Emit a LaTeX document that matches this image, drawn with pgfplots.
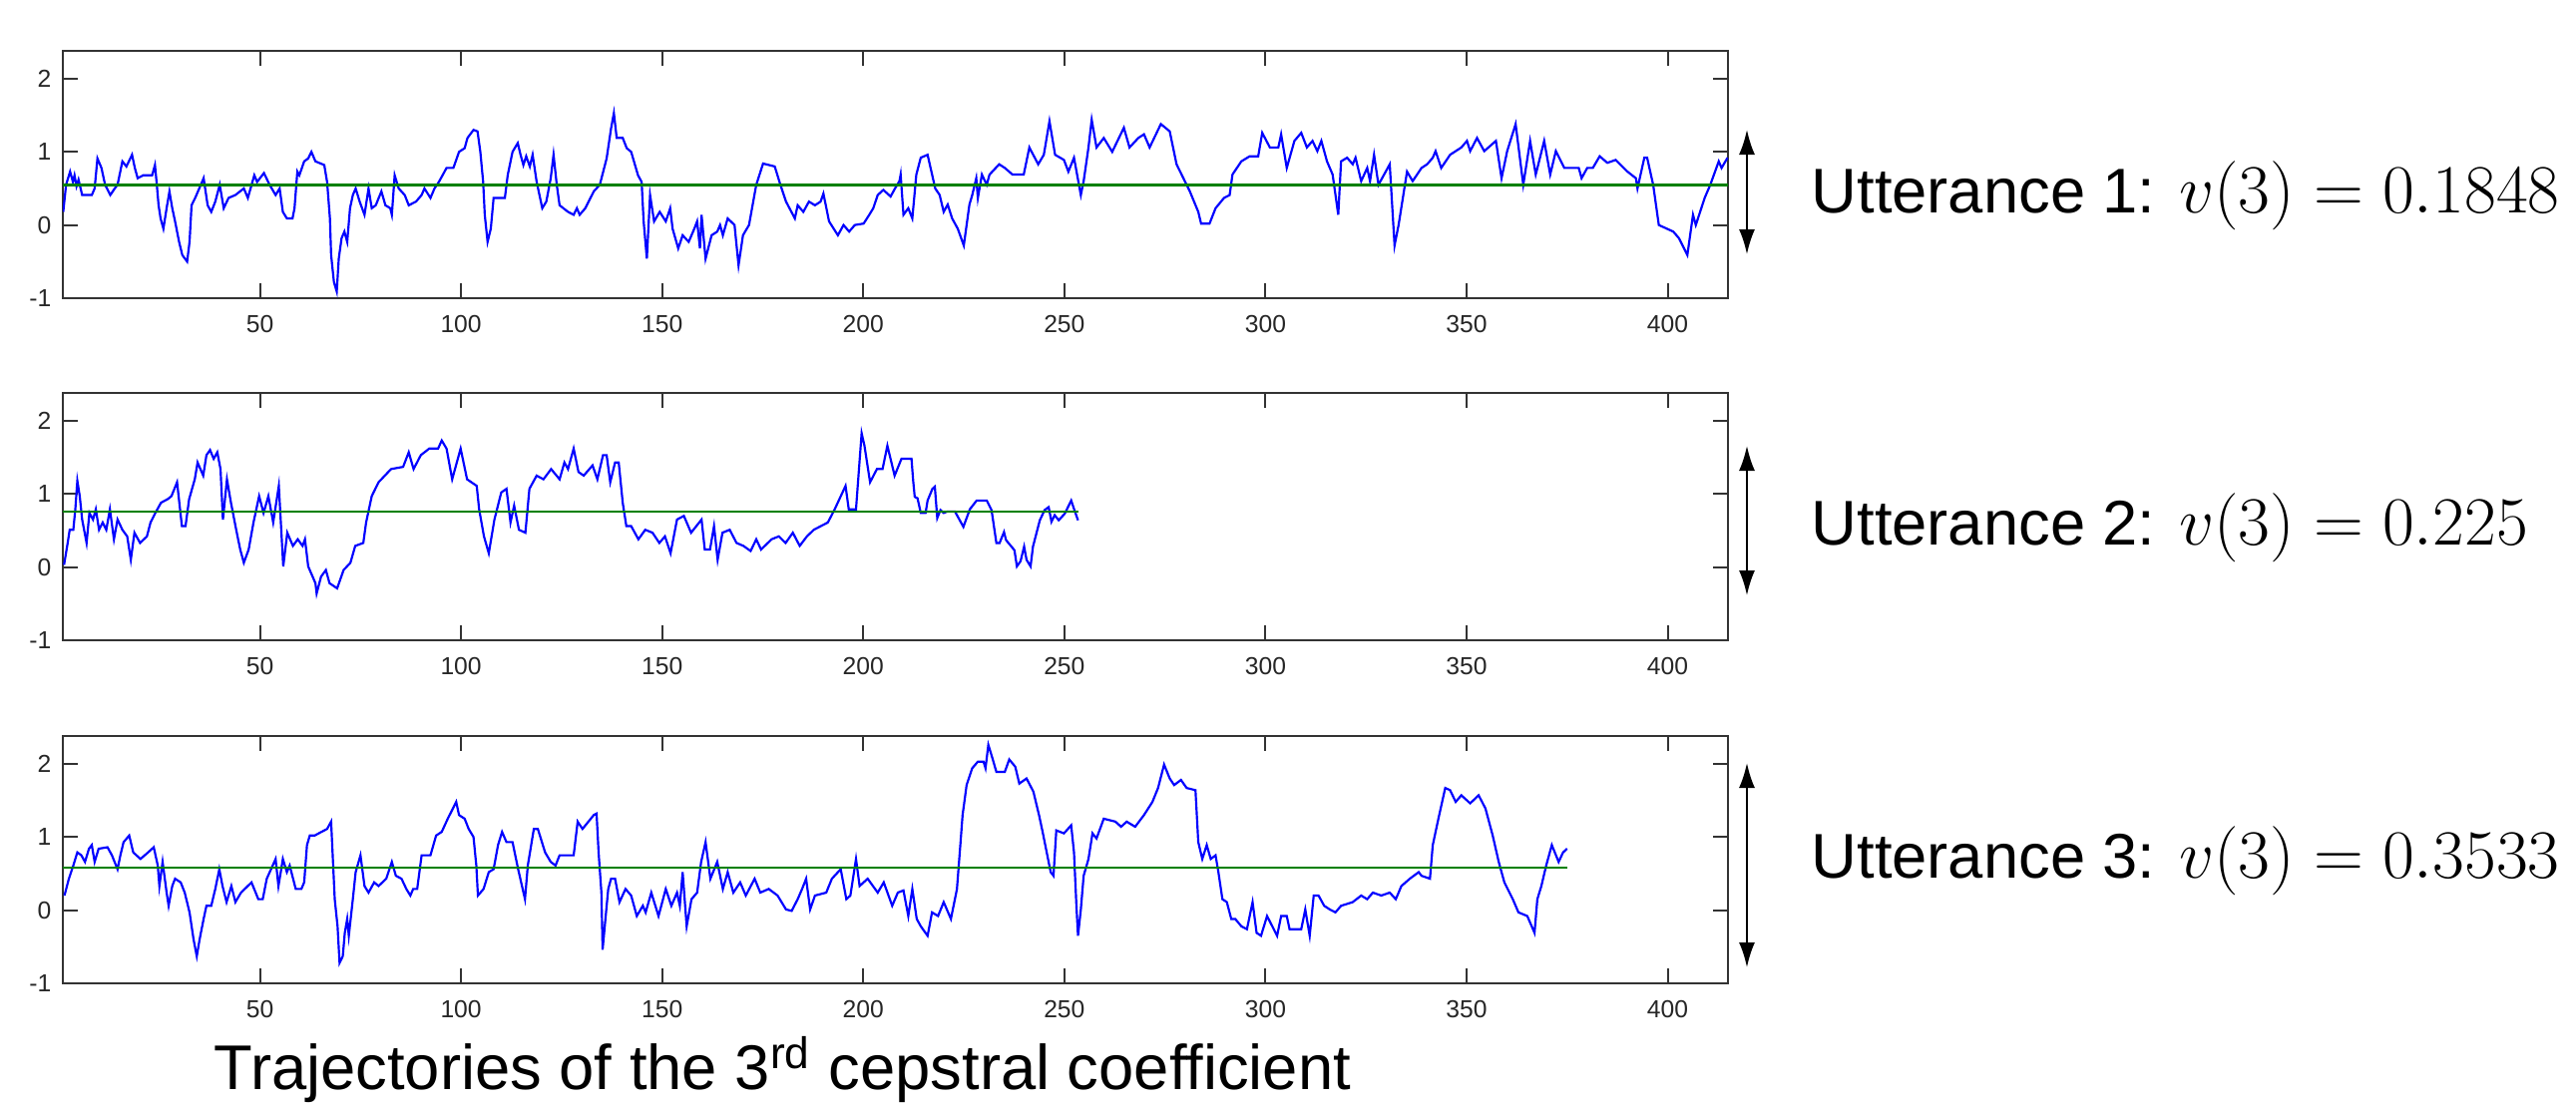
\documentclass[border=0pt]{standalone}
\usepackage[no-math]{fontspec}
\setmainfont{Liberation Sans}
\usepackage{pgfplots}
\pgfplotsset{compat=1.18}
\usetikzlibrary{arrows.meta}
\definecolor{mblue}{rgb}{0,0,1}
\definecolor{mgreen}{rgb}{0,0.5,0}
\definecolor{framec}{gray}{0.2}
\pgfplotsset{traj/.style={
  scale only axis, width=500.7pt, height=74.4pt,
  xmin=1, xmax=415, ymin=-1, ymax=2.38,
  xtick={50,100,...,400}, ytick={-1,0,1,2},
  tick align=inside, major tick length=4.5pt,
  axis line style={line width=0.8pt, draw=framec},
  tick style={line width=0.6pt, draw=framec},
  ticklabel style={font=\fontsize{7.4}{8.5}\selectfont, text=black!85},
  xticklabel style={yshift=-1.6pt},
  /pgf/number format/assume math mode=true,
  anchor=north west,
}}
\begin{document}
\begin{tikzpicture}
\useasboundingbox (0,0) rectangle (774.6pt,-332.4pt);
% ---------------- Utterance 1 ----------------
\begin{axis}[traj, at={(18.9pt,-15.3pt)}]
\addplot[mblue, line width=0.65pt] table {
1.1 0.18
1.8 0.55
2.8 0.73
3.5 0.59
3.9 0.68
4.4 0.53
4.9 0.62
5.8 0.41
8.2 0.41
8.9 0.50
9.6 0.91
10.6 0.78
11.5 0.55
12.8 0.41
13.9 0.50
14.6 0.55
15.8 0.87
16.8 0.80
18.2 0.96
18.9 0.78
19.6 0.64
21.0 0.68
23.2 0.68
23.9 0.82
24.3 0.59
24.8 0.27
25.3 0.09
26.0 -0.05
26.8 0.23
27.5 0.46
28.2 0.23
28.9 0.05
29.9 -0.23
30.7 -0.41
31.9 -0.50
32.5 -0.23
33.0 0.27
33.9 0.37
34.6 0.46
36.0 0.64
37.0 0.27
37.9 0.18
38.9 0.32
40.0 0.55
41.0 0.23
42.2 0.37
43.9 0.41
46.0 0.50
47.0 0.37
48.6 0.68
49.3 0.59
51.0 0.71
52.4 0.55
53.9 0.41
54.9 0.50
55.7 0.18
56.7 0.09
58.1 0.09
58.6 0.23
59.3 0.73
59.8 0.68
61.0 0.87
62.0 0.91
62.8 1.00
63.8 0.87
66.0 0.82
66.7 0.59
67.4 0.09
67.7 -0.41
68.4 -0.78
69.1 -0.91
69.6 -0.46
70.3 -0.18
71.0 -0.09
71.7 -0.23
72.4 0.23
73.1 0.41
73.8 0.50
74.8 0.32
76.0 0.14
77.0 0.50
77.8 0.23
78.8 0.27
80.2 0.46
81.2 0.27
82.4 0.23
82.8 0.14
83.5 0.68
84.5 0.50
86.0 0.41
87.0 0.27
88.8 0.32
90.2 0.41
90.9 0.50
92.4 0.37
93.4 0.50
94.5 0.59
96.4 0.78
98.1 0.78
99.5 1.00
100.9 1.05
101.6 1.19
103.1 1.30
104.1 1.28
104.8 1.00
105.5 0.59
105.9 0.14
106.6 -0.23
107.4 -0.05
108.1 0.37
110.9 0.37
111.6 0.68
112.8 1.00
114.1 1.12
114.8 0.96
115.5 0.82
116.2 0.94
117.1 0.80
117.8 0.96
118.8 0.59
120.2 0.23
121.2 0.32
122.3 0.64
123.0 0.96
123.8 0.55
124.5 0.27
126.6 0.18
128.0 0.14
128.8 0.23
129.5 0.14
130.9 0.23
133.0 0.46
134.5 0.55
136.2 0.91
137.3 1.32
138.0 1.53
138.7 1.19
140.2 1.19
141.2 1.05
142.3 1.00
144.0 0.68
144.9 0.59
145.4 0.05
146.2 -0.46
147.0 0.41
148.0 0.05
149.4 0.18
150.9 0.05
152.0 0.23
152.6 -0.05
154.0 -0.32
155.1 -0.14
156.6 -0.23
158.0 -0.05
158.7 0.05
159.4 -0.32
159.8 0.14
160.8 -0.46
162.3 -0.14
163.7 -0.09
164.4 0.00
165.1 -0.14
166.3 0.09
168.0 0.00
169.0 -0.55
170.1 -0.14
171.6 0.00
173.4 0.55
175.1 0.84
178.0 0.80
179.4 0.55
180.8 0.32
183.0 0.09
183.7 0.27
185.1 0.18
186.5 0.32
188.0 0.27
189.4 0.32
190.1 0.43
191.5 0.05
193.7 -0.14
195.1 0.00
196.5 -0.09
197.9 0.00
200.1 0.02
201.5 0.14
202.5 0.23
203.6 0.41
205.0 0.48
206.8 0.39
207.9 0.50
209.0 0.60
209.3 0.69
210.0 0.14
211.2 0.23
212.2 0.09
213.2 0.69
214.3 0.92
216.0 0.96
217.9 0.50
219.0 0.41
220.0 0.18
221.0 0.28
222.1 0.09
223.5 -0.05
225.0 -0.28
226.4 0.28
227.1 0.41
228.1 0.64
228.5 0.37
229.5 0.69
230.7 0.55
231.4 0.69
233.8 0.83
235.2 0.78
237.1 0.69
239.9 0.69
241.3 1.06
243.5 0.83
244.9 0.96
246.3 1.42
247.7 0.96
249.9 0.89
251.0 0.73
252.4 0.92
254.1 0.41
254.8 0.60
256.0 1.06
256.8 1.44
258.0 1.06
259.8 1.19
261.9 1.00
264.8 1.33
266.2 1.06
268.4 1.19
269.8 1.24
271.2 1.06
274.0 1.38
276.2 1.28
277.9 0.83
281.2 0.46
283.3 0.18
284.0 0.02
286.1 0.02
287.6 0.23
289.7 0.37
291.1 0.41
291.8 0.69
294.0 0.87
296.1 0.94
298.2 0.94
299.2 1.26
301.1 1.06
303.2 1.06
303.9 1.24
305.3 0.78
307.2 1.15
308.9 1.26
310.3 1.06
311.7 1.15
312.9 1.01
313.9 1.15
315.3 0.87
316.7 0.69
318.1 0.14
318.8 0.87
320.3 0.92
321.7 0.83
322.4 0.92
323.8 0.60
325.3 0.78
326.0 0.60
327.0 0.96
328.1 0.55
330.9 0.83
332.1 -0.28
333.1 0.00
335.2 0.73
336.6 0.60
338.8 0.78
340.2 0.83
341.6 0.92
342.3 1.01
343.7 0.78
345.9 0.96
348.7 1.06
350.1 1.15
350.9 1.01
352.6 1.19
354.4 1.01
357.3 1.15
358.7 0.64
360.1 1.01
362.2 1.38
364.1 0.55
365.8 1.15
367.2 0.69
369.3 1.15
370.8 0.69
372.2 1.01
374.3 0.78
377.9 0.78
378.6 0.64
380.0 0.78
381.4 0.78
383.1 0.94
385.0 0.85
387.1 0.89
390.0 0.73
392.1 0.64
392.5 0.50
394.2 0.92
394.9 0.92
396.4 0.55
397.8 0.00
401.4 -0.09
402.8 -0.18
404.9 -0.41
406.3 0.14
407.0 0.00
409.2 0.37
410.6 0.55
412.7 0.87
413.4 0.78
414.9 0.92
};
\addplot[mgreen, line width=0.8pt] coordinates {(1,0.55) (415,0.55)};
\end{axis}
% ---------------- Utterance 2 ----------------
\begin{axis}[traj, at={(18.9pt,-118.2pt)}]
\addplot[mblue, line width=0.65pt] table {
1.3 0.03
2.2 0.33
2.7 0.51
3.6 0.51
4.1 0.79
4.6 1.18
5.2 0.97
5.8 0.65
6.9 0.33
7.6 0.74
8.5 0.65
9.2 0.79
10.0 0.51
10.9 0.61
11.8 0.51
12.7 0.79
13.7 0.38
14.6 0.65
15.8 0.51
17.0 0.42
17.9 0.10
18.8 0.47
20.2 0.33
21.9 0.42
22.8 0.61
24.0 0.74
25.4 0.88
27.1 0.93
28.0 0.97
29.4 1.16
30.6 0.56
31.5 0.56
32.4 0.93
33.8 1.20
34.5 1.43
35.9 1.25
36.7 1.53
37.6 1.60
38.5 1.48
39.4 1.57
40.2 1.34
40.8 0.65
41.8 1.20
42.8 0.88
44.1 0.51
45.1 0.24
46.0 0.06
47.2 0.24
48.4 0.61
49.8 0.97
50.9 0.74
52.1 0.97
53.3 0.61
54.7 1.11
55.8 0.01
56.8 0.47
58.2 0.29
59.4 0.38
60.6 0.29
61.2 0.38
62.0 0.01
63.8 -0.22
64.1 -0.36
65.2 -0.13
66.4 -0.04
67.3 -0.22
69.2 -0.29
70.8 -0.04
72.5 0.06
73.7 0.29
75.7 0.33
76.4 0.61
77.8 0.97
79.5 1.16
82.6 1.34
85.6 1.37
87.0 1.57
88.2 1.34
90.0 1.53
92.1 1.62
94.3 1.62
95.2 1.73
96.4 1.62
97.8 1.20
99.9 1.62
101.5 1.20
103.9 1.11
104.5 0.79
105.7 0.42
106.9 0.19
108.3 0.65
110.0 1.02
111.3 1.07
112.3 0.61
113.2 0.84
114.4 0.51
116.0 0.47
117.0 1.07
118.8 1.25
120.5 1.20
122.4 1.34
124.5 1.20
125.7 1.43
126.6 1.34
128.0 1.62
129.2 1.30
130.5 1.25
132.7 1.39
133.9 1.20
135.3 1.53
136.2 1.53
137.1 1.16
138.3 1.43
139.2 1.43
140.2 0.88
141.1 0.56
142.3 0.56
144.1 0.38
145.8 0.51
147.6 0.47
149.3 0.33
150.7 0.42
152.1 0.19
153.7 0.65
155.4 0.70
157.2 0.47
159.8 0.65
160.6 0.24
161.9 0.24
162.9 0.56
163.8 0.10
165.0 0.47
166.8 0.51
168.5 0.33
170.2 0.29
172.0 0.22
173.4 0.38
174.6 0.24
177.2 0.38
179.0 0.42
180.7 0.33
182.5 0.47
184.2 0.29
186.0 0.42
187.7 0.51
191.2 0.61
192.9 0.79
195.6 1.11
196.4 0.79
198.2 0.79
199.6 1.83
200.3 1.66
201.7 1.16
203.4 1.34
204.8 1.34
206.0 1.66
207.8 1.25
209.5 1.48
212.0 1.48
212.4 1.19
212.8 0.96
213.5 0.94
214.3 0.74
215.5 0.74
216.0 0.91
217.2 1.07
217.8 1.10
218.4 0.67
219.2 0.78
220.0 0.74
220.9 0.76
222.8 0.76
224.9 0.55
226.5 0.79
228.2 0.91
230.7 0.91
231.9 0.78
233.1 0.33
233.9 0.33
235.0 0.48
235.5 0.37
237.6 0.23
238.2 0.01
239.1 0.08
240.0 0.28
240.6 0.10
241.6 0.01
242.2 0.28
243.9 0.64
245.1 0.78
246.1 0.82
246.8 0.62
247.6 0.71
248.6 0.64
250.1 0.73
251.7 0.91
252.5 0.78
253.4 0.64
};
\addplot[mgreen, line width=0.8pt] coordinates {(1,0.76) (253.4,0.76)};
\end{axis}
% ---------------- Utterance 3 ----------------
\begin{axis}[traj, at={(18.9pt,-221.4pt)}]
\addplot[mblue, line width=0.65pt] table {
1.4 0.20
2.5 0.43
3.6 0.61
4.6 0.79
5.6 0.75
6.5 0.66
7.5 0.84
8.2 0.89
8.9 0.66
9.9 0.84
12.1 0.86
13.2 0.75
14.6 0.56
15.3 0.75
16.1 0.93
17.5 1.02
18.5 0.79
20.3 0.70
22.2 0.79
23.6 0.86
24.6 0.61
25.0 0.33
25.8 0.66
26.8 0.24
27.3 0.06
28.2 0.33
28.9 0.43
30.3 0.38
31.3 0.24
32.5 -0.03
33.5 -0.40
34.3 -0.63
35.0 -0.40
36.0 -0.12
36.7 0.06
37.9 0.06
38.9 0.29
39.9 0.56
40.7 0.33
41.7 0.11
42.9 0.33
43.9 0.11
45.3 0.24
47.9 0.38
49.6 0.15
50.7 0.15
51.7 0.43
53.9 0.70
54.6 0.33
55.3 0.56
55.7 0.70
56.7 0.52
57.4 0.61
58.9 0.29
60.3 0.29
61.0 0.38
61.7 0.89
62.4 1.02
63.6 1.02
65.3 1.07
66.7 1.11
67.7 1.21
68.6 0.15
69.3 -0.22
69.8 -0.72
70.6 -0.63
71.1 -0.31
71.7 -0.12
72.1 -0.35
73.1 0.15
73.8 0.52
75.0 0.75
76.0 0.33
77.0 0.24
78.4 0.38
79.5 0.33
81.4 0.43
82.8 0.66
83.8 0.47
85.2 0.43
86.4 0.29
87.4 0.20
88.1 0.29
89.1 0.29
90.2 0.75
92.4 0.75
93.8 1.02
95.2 1.07
96.7 1.25
97.8 1.37
98.8 1.48
99.5 1.30
100.9 1.25
101.9 1.11
103.1 1.00
103.8 0.61
104.2 0.20
105.6 0.29
106.9 0.52
108.1 0.56
109.2 0.89
110.2 1.07
111.3 0.93
112.8 0.93
114.2 0.56
115.9 0.15
116.6 0.61
118.1 1.11
119.1 1.11
120.9 0.79
122.3 0.66
123.5 0.61
124.5 0.75
128.0 0.75
129.0 1.21
130.2 1.11
133.0 1.30
133.7 1.32
134.2 0.79
134.9 0.24
135.2 -0.54
135.9 -0.12
136.6 0.29
137.3 0.43
138.3 0.43
139.4 0.11
140.9 0.29
142.3 0.20
143.7 -0.08
145.2 0.06
145.9 -0.03
147.3 0.24
149.1 -0.08
150.9 0.29
152.3 0.06
153.7 0.24
154.4 0.06
155.1 0.52
156.1 -0.22
157.3 0.15
158.7 0.24
159.7 0.66
160.8 0.93
162.0 0.43
163.7 0.66
165.1 0.29
166.3 0.52
167.7 0.24
169.4 0.38
170.8 0.20
173.0 0.43
174.4 0.24
176.5 0.29
178.7 0.20
180.8 0.01
182.2 -0.01
183.7 0.15
184.8 0.29
185.8 0.43
186.8 0.01
188.0 0.20
190.8 0.24
192.2 0.43
194.4 0.56
195.8 0.15
196.8 0.20
198.2 0.70
199.1 0.33
201.1 0.43
203.6 0.24
205.1 0.38
207.2 0.06
208.6 0.24
210.0 0.27
211.2 -0.08
212.2 0.29
213.3 -0.12
214.3 -0.22
216.0 -0.35
217.1 -0.03
218.6 -0.08
220.0 0.11
221.8 -0.12
223.3 0.29
224.0 0.79
224.7 1.30
225.7 1.71
227.1 1.94
228.5 2.03
229.9 2.03
230.4 1.94
231.1 2.26
232.1 2.08
233.1 1.89
235.2 1.89
236.3 2.06
237.8 1.96
238.8 1.73
240.6 1.80
242.3 1.62
243.7 1.30
244.6 1.07
246.6 0.52
247.3 0.47
248.0 1.09
249.9 1.05
251.7 1.16
252.4 0.79
253.0 0.06
253.4 -0.35
254.1 0.01
254.8 0.47
256.0 0.70
257.0 1.05
258.0 0.98
259.8 1.25
262.7 1.21
264.1 1.14
265.5 1.21
267.6 1.14
269.8 1.30
271.9 1.48
273.3 1.67
274.8 1.99
276.2 1.80
277.3 1.71
279.0 1.78
280.4 1.67
282.6 1.64
283.3 0.93
284.3 0.70
285.4 0.89
286.4 0.70
287.6 0.75
288.3 0.52
289.3 0.15
290.4 0.11
291.5 -0.12
292.5 -0.12
294.0 -0.22
295.4 -0.26
296.8 0.11
297.8 -0.31
298.9 -0.35
300.4 -0.08
302.9 -0.35
303.9 -0.08
305.3 -0.08
306.0 -0.26
308.9 -0.26
309.9 0.01
311.0 -0.35
312.0 0.20
313.2 0.20
314.6 0.06
316.0 0.01
317.4 -0.03
318.8 0.06
321.7 0.11
323.8 0.20
325.3 0.15
326.7 0.24
328.8 0.20
330.9 0.24
332.4 0.15
333.8 0.33
335.9 0.43
338.1 0.52
338.8 0.47
340.9 0.43
341.6 0.89
343.0 1.25
344.7 1.67
345.9 1.64
347.3 1.48
348.7 1.57
350.9 1.46
353.0 1.57
354.7 1.39
356.5 1.02
358.0 0.66
359.4 0.38
361.5 0.15
362.9 -0.03
365.1 -0.08
366.9 -0.31
367.6 0.15
368.6 0.33
369.8 0.61
371.2 0.89
372.9 0.66
374.0 0.79
375.0 0.84
};
\addplot[mgreen, line width=0.8pt] coordinates {(1,0.58) (375,0.58)};
\end{axis}
% ---------------- annotations ----------------
\draw[{Latex[length=7.5pt,width=4.8pt]}-{Latex[length=7.5pt,width=4.8pt]}, line width=0.6pt] (525.3pt,-39pt) -- (525.3pt,-76.5pt);
\draw[{Latex[length=7.5pt,width=4.8pt]}-{Latex[length=7.5pt,width=4.8pt]}, line width=0.6pt] (525.3pt,-134.1pt) -- (525.3pt,-179.1pt);
\draw[{Latex[length=7.5pt,width=4.8pt]}-{Latex[length=7.5pt,width=4.8pt]}, line width=0.6pt] (525.3pt,-229.5pt) -- (525.3pt,-291pt);
\node[anchor=base west, inner sep=0pt, font=\fontsize{19}{22}\selectfont] at (544.5pt,-63.9pt) {Utterance 1: {\fontsize{20.5}{24}\selectfont$v(3) = 0.1848$}};
\node[anchor=base west, inner sep=0pt, font=\fontsize{19}{22}\selectfont] at (544.5pt,-164pt) {Utterance 2: {\fontsize{20.5}{24}\selectfont$v(3) = 0.225$}};
\node[anchor=base west, inner sep=0pt, font=\fontsize{19}{22}\selectfont] at (544.5pt,-264pt) {Utterance 3: {\fontsize{20.5}{24}\selectfont$v(3) = 0.3533$}};
\node[anchor=base west, inner sep=0pt, font=\fontsize{19}{22}\selectfont] at (64.2pt,-327.8pt) {Trajectories of the 3\textsuperscript{rd} cepstral coefficient};
\end{tikzpicture}
\end{document}
